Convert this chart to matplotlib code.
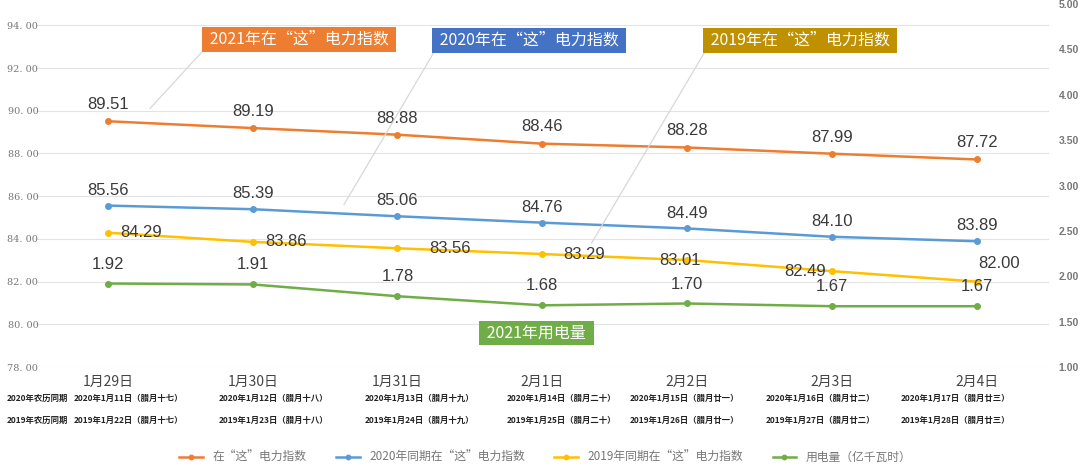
import matplotlib.pyplot as plt
from matplotlib.transforms import blended_transform_factory

plt.rcParams['font.family'] = ['Noto Sans CJK SC', 'DejaVu Sans']

dates = ['1月29日', '1月30日', '1月31日', '2月1日', '2月2日', '2月3日', '2月4日']
lunar_2020 = ['2020年1月11日（腊月十七）', '2020年1月12日（腊月十八）', '2020年1月13日（腊月十九）',
              '2020年1月14日（腊月二十）', '2020年1月15日（腊月廿一）', '2020年1月16日（腊月廿二）',
              '2020年1月17日（腊月廿三）']
lunar_2019 = ['2019年1月22日（腊月十七）', '2019年1月23日（腊月十八）', '2019年1月24日（腊月十九）',
              '2019年1月25日（腊月二十）', '2019年1月26日（腊月廿一）', '2019年1月27日（腊月廿二）',
              '2019年1月28日（腊月廿三）']
idx_2021 = [89.51, 89.19, 88.88, 88.46, 88.28, 87.99, 87.72]
idx_2020 = [85.56, 85.39, 85.06, 84.76, 84.49, 84.10, 83.89]
idx_2019 = [84.29, 83.86, 83.56, 83.29, 83.01, 82.49, 82.00]
power = [1.92, 1.91, 1.78, 1.68, 1.70, 1.67, 1.67]

c_or = '#ED7D31'
c_bl = '#5B9BD5'
c_ye = '#FFC000'
c_gr = '#70AD47'
lab_col = '#3a3a3a'

fig = plt.figure(figsize=(10.8, 4.67), dpi=100)
ax = fig.add_axes([0.0329, 0.2141, 0.9384, 0.7773])
ax2 = ax.twinx()

x = list(range(len(dates)))
l1, = ax.plot(x, idx_2021, color=c_or, lw=1.8, marker='o', ms=4, label='在“这”电力指数', zorder=3)
l2, = ax.plot(x, idx_2020, color=c_bl, lw=1.8, marker='o', ms=4, label='2020年同期在“这”电力指数', zorder=3)
l3, = ax.plot(x, idx_2019, color=c_ye, lw=1.8, marker='o', ms=4, label='2019年同期在“这”电力指数', zorder=3)
l4, = ax2.plot(x, power, color=c_gr, lw=1.8, marker='o', ms=4, label='用电量（亿千瓦时）', zorder=3)

ax.set_xlim(-0.5, len(dates) - 0.5)
ax.set_ylim(78, 95)
ax.set_yticks(range(78, 95, 2))
ax.set_yticklabels(['%d. 00' % v for v in range(78, 95, 2)], fontsize=7, color='#777777',
                   family='DejaVu Serif')
ax2.set_ylim(1, 5)
ax2.set_yticks([1 + 0.5 * i for i in range(9)])
ax2.set_yticklabels(['%.2f' % (1 + 0.5 * i) for i in range(9)], fontsize=7.5, color='#777777',
                    family='Liberation Sans', fontweight='bold')
ax.grid(axis='y', color='#e3e3e3', lw=0.8)
ax.set_axisbelow(True)
for a in (ax, ax2):
    for s in a.spines.values():
        s.set_visible(False)
    a.tick_params(length=0)
ax.tick_params(axis='y', pad=-2)
ax2.tick_params(axis='y', pad=7)
ax.set_xticks([])

# data labels
for i in x:
    ax.annotate('%.2f' % idx_2021[i], (i, idx_2021[i]), xytext=(0, 12), textcoords='offset points',
                ha='center', va='center', fontsize=12, color=lab_col, family='Liberation Sans')
    ax.annotate('%.2f' % idx_2020[i], (i, idx_2020[i]), xytext=(0, 11), textcoords='offset points',
                ha='center', va='center', fontsize=12, color=lab_col, family='Liberation Sans')
    ax2.annotate('%.2f' % power[i], (i, power[i]), xytext=(0, 14), textcoords='offset points',
                 ha='center', va='center', fontsize=12, color=lab_col, family='Liberation Sans')
ye_off = [(24, 0), (24, 0), (38, 0), (30, 0), (-5, 0), (-19, 0), (16, 13)]
for i in x:
    ax.annotate('%.2f' % idx_2019[i], (i, idx_2019[i]), xytext=ye_off[i], textcoords='offset points',
                ha='center', va='center', fontsize=12, color=lab_col, family='Liberation Sans', zorder=4)

# callout boxes
def callout(text, pos, color, target=None, axis=ax):
    kw = dict(ha='center', va='center', fontsize=11.5, color='white',
              bbox=dict(boxstyle='square,pad=0.24', fc=color, ec='none'), zorder=5)
    if target is not None:
        kw['arrowprops'] = dict(arrowstyle='-', color='#d8d8d8', lw=0.9, relpos=(0, 0),
                                shrinkA=0, shrinkB=0)
        axis.annotate(' ' + text + ' ', xy=target, xytext=pos, **kw)
    else:
        axis.text(pos[0], pos[1], ' ' + text + ' ', **kw)

callout('2021年在“这”电力指数', (1.32, 93.35), c_or, (0.29, 90.1))
callout('2020年在“这”电力指数', (2.91, 93.3), '#4472C4', (1.63, 85.6))
callout('2019年在“这”电力指数', (4.78, 93.3), '#BF9000', (3.34, 83.8))
callout('2021年用电量', (2.96, 79.6), c_gr)

# x category labels (the lunar text boxes sit a bit off the category centres)
lunar_shift = [0.14, 0.145, 0.15, 0.13, -0.015, -0.08, -0.145]
tr = blended_transform_factory(ax.transData, ax.transAxes)
for i in x:
    ax.text(i, -0.04, dates[i], transform=tr, ha='center', va='center', fontsize=10, color='#444444')
    ax.text(i + lunar_shift[i], -0.086, lunar_2020[i], transform=tr, ha='center', va='center',
            fontsize=6, color='#222222', fontweight='bold')
    ax.text(i + lunar_shift[i], -0.146, lunar_2019[i], transform=tr, ha='center', va='center',
            fontsize=6, color='#222222', fontweight='bold')
fig.text(0.006, 1 - 398 / 467, '2020年农历同期', ha='left', va='center', fontsize=6,
         color='#222222', fontweight='bold')
fig.text(0.006, 1 - 420 / 467, '2019年农历同期', ha='left', va='center', fontsize=6,
         color='#222222', fontweight='bold')

leg = fig.legend(handles=[l1, l2, l3, l4], loc='center', bbox_to_anchor=(0.505, 0.02), ncol=4,
                 frameon=False, fontsize=8.5, handlelength=2, columnspacing=2.5, markerscale=0.8)
for t in leg.get_texts():
    t.set_color('#777777')

fig.savefig('out.png', dpi=100)
